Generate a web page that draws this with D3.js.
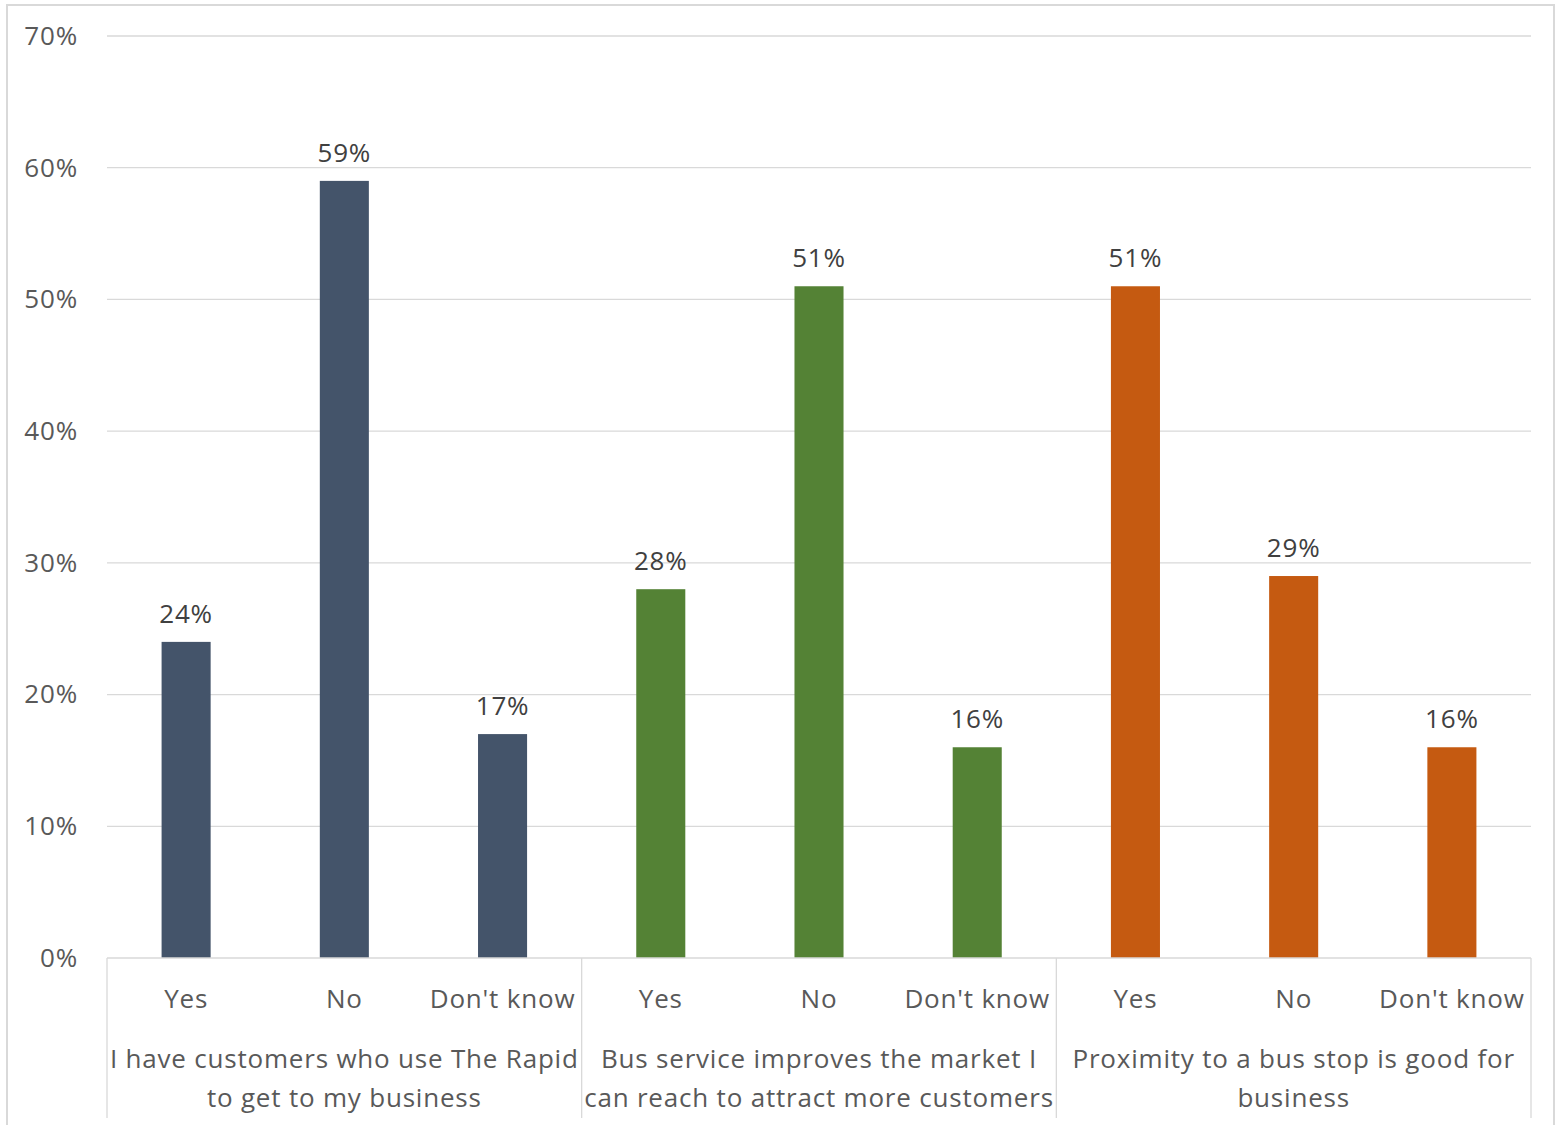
<!DOCTYPE html>
<html lang="en">
<head>
<meta charset="utf-8">
<title>Bus service survey</title>
<script src="https://d3js.org/d3.v7.min.js"></script>
<style>
  body { margin: 0; background: #fff; }
  svg text { font-family: "Open Sans", "Noto Sans", sans-serif; letter-spacing: 0.8px; }
</style>
</head>
<body>
<svg id="chart" width="1559" height="1125"></svg>
<script>
// data
var groups = [
  ["I have customers who use The Rapid", "to get to my business"],
  ["Bus service improves the market I", "can reach to attract more customers"],
  ["Proximity to a bus stop is good for", "business"]
];
var answers = ["Yes", "No", "Don't know"];
var values = [
  [0.24, 0.59, 0.17],
  [0.28, 0.51, 0.16],
  [0.51, 0.29, 0.16]
];
var colours = ["#44546A", "#548235", "#C55A11"];
var yTicks = [0, 0.1, 0.2, 0.3, 0.4, 0.5, 0.6, 0.7];

var svg = d3.select("#chart");
var plotLeft = 107, plotRight = 1531, plotTop = 36, plotBottom = 958;
var FONT = 26;

// outer border
svg.append("rect")
  .attr("x", 7).attr("y", 5)
  .attr("width", 1547).attr("height", 1130)
  .attr("fill", "none").attr("stroke", "#d9d9d9").attr("stroke-width", 2);

// flatten rows
var rows = [];
values.forEach(function (g, gi) {
  g.forEach(function (v, ai) {
    rows.push({ key: gi + "-" + ai, group: gi, answer: answers[ai], value: v });
  });
});

var x = d3.scaleBand().domain(rows.map(function (d) { return d.key; }))
  .range([plotLeft, plotRight]).paddingInner(0.69).paddingOuter(0.345);
var y = d3.scaleLinear().domain([0, 0.7]).range([plotBottom, plotTop]);

// gridlines
svg.append("g").selectAll("line").data(yTicks.slice(1)).join("line")
  .attr("x1", plotLeft).attr("x2", plotRight)
  .attr("y1", function (d) { return y(d); }).attr("y2", function (d) { return y(d); })
  .attr("stroke", "#d9d9d9").attr("stroke-width", 1.3);

// y axis labels
var yAxis = d3.axisLeft(y).tickValues(yTicks).tickFormat(d3.format(".0%")).tickSize(0).tickPadding(29);
var ya = svg.append("g").attr("transform", "translate(" + plotLeft + ",0)").call(yAxis);
ya.select(".domain").remove();
ya.selectAll("text").attr("font-size", FONT).attr("fill", "#595959")
  .style("font-family", '"Open Sans", sans-serif');

// bars
svg.append("g").selectAll("rect").data(rows).join("rect")
  .attr("x", function (d) { return x(d.key); })
  .attr("width", x.bandwidth())
  .attr("y", function (d) { return y(d.value); })
  .attr("height", function (d) { return y(0) - y(d.value); })
  .attr("fill", function (d) { return colours[d.group]; });

// data labels
svg.append("g").selectAll("text").data(rows).join("text")
  .attr("x", function (d) { return x(d.key) + x.bandwidth() / 2; })
  .attr("y", function (d) { return y(d.value) - 19; })
  .attr("text-anchor", "middle").attr("font-size", FONT).attr("fill", "#404040")
  .text(function (d) { return Math.round(d.value * 100) + "%"; });

// x axis line and group dividers
svg.append("line").attr("x1", plotLeft).attr("x2", plotRight).attr("y1", plotBottom).attr("y2", plotBottom)
  .attr("stroke", "#d9d9d9").attr("stroke-width", 1.3);
var groupWidth = (plotRight - plotLeft) / groups.length;
svg.append("g").selectAll("line").data(d3.range(groups.length + 1)).join("line")
  .attr("x1", function (i) { return plotLeft + i * groupWidth; })
  .attr("x2", function (i) { return plotLeft + i * groupWidth; })
  .attr("y1", plotBottom).attr("y2", 1118)
  .attr("stroke", "#d9d9d9").attr("stroke-width", 1.3);

// answer labels
svg.append("g").selectAll("text").data(rows).join("text")
  .attr("x", function (d) { return x(d.key) + x.bandwidth() / 2; })
  .attr("y", 1008)
  .attr("text-anchor", "middle").attr("font-size", FONT).attr("fill", "#595959")
  .text(function (d) { return d.answer; });

// group labels
var gl = svg.append("g").selectAll("text").data(groups).join("text")
  .attr("text-anchor", "middle").attr("font-size", FONT).attr("fill", "#595959");
gl.each(function (lines, i) {
  var t = d3.select(this);
  lines.forEach(function (line, li) {
    t.append("tspan")
      .attr("x", plotLeft + (i + 0.5) * groupWidth)
      .attr("y", 1068 + li * 39)
      .text(line);
  });
});
</script>
</body>
</html>
